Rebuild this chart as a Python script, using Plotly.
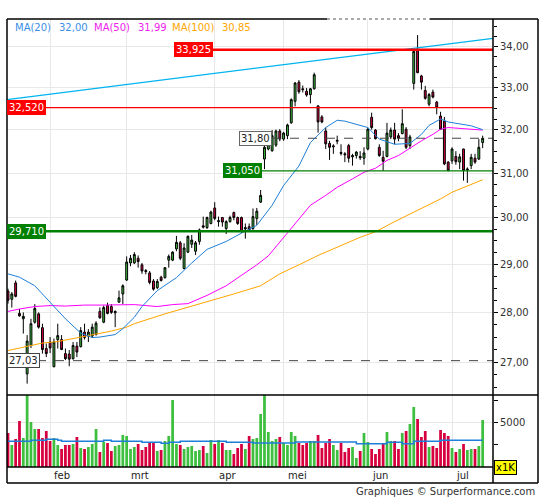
import math
import pandas as pd
import plotly.graph_objects as go

# trading days on the chart (Euronext, 16 jan - 12 jul 2023)
holidays = ["2023-04-07", "2023-04-10", "2023-05-01"]
days = [d.strftime("%Y-%m-%d") for d in pd.bdate_range("2023-01-16", "2023-07-12")
        if d.strftime("%Y-%m-%d") not in holidays]

opens = [
    28.44, 28.27, 28.61, 27.98, 27.87, 26.77, 27.33, 27.80, 27.97, 27.69,
    27.27, 27.40, 26.91, 27.45, 27.45, 27.17, 27.16, 27.07, 27.32, 27.31,
    27.60, 27.52, 27.52, 27.55, 28.02, 27.80, 28.14, 28.12, 27.99, 28.21,
    28.38, 28.67, 29.03, 29.03, 29.13, 28.99, 28.87, 28.82, 28.65, 28.51,
    28.73, 28.72, 29.09, 29.09, 29.33, 29.46, 28.91, 29.26, 29.43, 29.28,
    29.49, 29.83, 29.79, 29.88, 30.22, 29.92, 30.01, 29.77, 29.92, 30.12,
    30.01, 30.01, 29.76, 29.81, 29.77, 29.99, 30.35, 31.32, 31.55, 31.51,
    31.64, 31.97, 31.78, 31.86, 32.16, 32.67, 33.13, 32.97, 32.91, 32.83,
    32.97, 32.56, 32.30, 31.97, 31.68, 31.60, 31.73, 31.47, 31.44, 31.63,
    31.37, 31.40, 31.38, 31.34, 31.55, 32.29, 31.99, 31.59, 31.36, 31.38,
    31.83, 31.99, 31.86, 31.91, 32.01, 31.63, 33.10, 33.94, 33.28, 32.93,
    32.60, 32.89, 32.65, 32.32, 32.20, 31.25, 31.28, 31.38, 31.25, 31.55,
    31.07, 31.17, 31.34, 31.32, 31.70,
]
highs = [
    28.49, 28.42, 28.66, 28.07, 28.00, 27.54, 27.87, 28.17, 28.00, 27.77,
    27.37, 27.50, 27.47, 27.77, 27.54, 27.27, 27.24, 27.40, 27.40, 27.70,
    27.77, 27.66, 27.77, 27.82, 28.10, 28.14, 28.20, 28.17, 28.04, 28.45,
    28.58, 29.17, 29.20, 29.26, 29.19, 29.03, 28.90, 28.86, 28.69, 28.69,
    28.76, 28.94, 29.21, 29.28, 29.61, 29.50, 29.45, 29.62, 29.63, 29.50,
    29.77, 30.03, 30.03, 30.16, 30.35, 30.03, 30.02, 29.95, 30.05, 30.14,
    30.03, 30.03, 29.88, 29.88, 30.21, 30.22, 30.62, 31.66, 31.78, 31.99,
    32.00, 32.01, 31.95, 32.14, 32.74, 33.13, 33.18, 33.05, 32.99, 32.99,
    33.36, 32.58, 32.34, 32.05, 31.74, 31.66, 31.86, 31.66, 31.48, 31.67,
    31.44, 31.50, 31.50, 31.59, 32.05, 32.40, 32.01, 31.66, 31.51, 32.16,
    32.05, 32.16, 31.92, 32.48, 32.06, 31.88, 33.96, 34.29, 33.31, 33.04,
    32.87, 32.95, 32.68, 32.42, 32.30, 31.27, 31.59, 31.50, 31.44, 31.56,
    31.13, 31.44, 31.44, 31.78, 31.86,
]
lows = [
    28.18, 28.10, 28.31, 27.91, 27.57, 26.58, 27.28, 27.77, 27.67, 27.17,
    27.10, 27.18, 26.90, 27.27, 27.24, 27.04, 26.92, 27.05, 27.10, 27.29,
    27.45, 27.40, 27.48, 27.53, 27.87, 27.78, 27.96, 27.97, 27.70, 28.20,
    28.17, 28.65, 28.96, 29.01, 28.93, 28.80, 28.79, 28.58, 28.45, 28.48,
    28.64, 28.70, 28.93, 29.07, 29.28, 29.09, 28.90, 29.24, 29.35, 29.20,
    29.42, 29.77, 29.76, 29.86, 29.95, 29.81, 29.81, 29.65, 29.90, 29.95,
    29.85, 29.68, 29.55, 29.72, 29.74, 29.85, 30.33, 31.09, 31.52, 31.49,
    31.60, 31.73, 31.74, 31.78, 32.14, 32.55, 32.85, 32.88, 32.78, 32.62,
    32.95, 31.93, 32.15, 31.55, 31.30, 31.44, 31.66, 31.40, 31.25, 31.24,
    31.17, 31.33, 31.30, 31.19, 31.52, 32.00, 31.77, 31.37, 31.05, 31.36,
    31.78, 31.66, 31.73, 31.89, 31.55, 31.55, 32.95, 33.35, 32.95, 32.71,
    32.55, 32.74, 32.36, 31.99, 31.18, 31.04, 31.21, 31.19, 31.09, 30.83,
    30.78, 31.09, 31.21, 31.30, 31.57,
]
closes = [
    28.25, 28.38, 28.33, 27.93, 27.92, 27.42, 27.77, 28.08, 27.70, 27.25,
    27.17, 27.28, 27.40, 27.53, 27.25, 27.07, 27.06, 27.33, 27.20, 27.63,
    27.49, 27.60, 27.70, 27.78, 27.89, 28.10, 27.98, 28.00, 28.02, 28.30,
    28.55, 29.05, 29.13, 29.21, 29.06, 28.86, 28.85, 28.62, 28.48, 28.64,
    28.66, 28.93, 29.17, 29.26, 29.47, 29.13, 29.35, 29.60, 29.52, 29.46,
    29.74, 29.80, 30.01, 30.13, 29.99, 29.94, 29.91, 29.92, 30.01, 30.01,
    29.88, 29.70, 29.79, 29.74, 30.03, 30.15, 30.50, 31.59, 31.74, 31.86,
    31.97, 31.78, 31.92, 32.11, 32.71, 33.11, 32.90, 32.95, 32.82, 32.97,
    33.31, 32.18, 32.18, 31.67, 31.59, 31.62, 31.75, 31.45, 31.42, 31.34,
    31.40, 31.48, 31.35, 31.46, 32.01, 32.05, 31.79, 31.40, 31.27, 31.92,
    31.99, 31.78, 31.80, 32.14, 31.59, 31.83, 33.88, 33.36, 33.13, 32.74,
    32.83, 32.77, 32.52, 32.01, 31.21, 31.06, 31.55, 31.26, 31.37, 31.06,
    31.09, 31.36, 31.25, 31.59, 31.80,
]
# volume in thousands
volumes = [
    3825, 2475, 3150, 5175, 3260, 9300, 5060, 4275, 4275, 3260,
    4050, 2925, 3260, 2475, 2025, 2475, 2475, 2590, 3375, 2140,
    2025, 2250, 2590, 4275, 1690, 2810, 2700, 1800, 2360, 2475,
    3600, 3490, 2025, 2250, 2590, 1910, 2250, 2700, 2700, 1800,
    1910, 2925, 3490, 7540, 2590, 2475, 2025, 2250, 2360, 1800,
    1910, 2360, 1575, 3040, 2590, 3040, 2700, 1910, 1910, 1460,
    2140, 2590, 2025, 3490, 3150, 3260, 5960, 9000, 3940, 2925,
    3150, 3375, 2700, 2475, 3940, 3490, 2700, 2475, 2700, 2925,
    2925, 3600, 2140, 2700, 3150, 2475, 1910, 2700, 1690, 2140,
    2250, 1010, 1800, 3825, 2810, 2025, 1460, 2025, 2590, 3940,
    2925, 2925, 2025, 3825, 4050, 4840, 6750, 5400, 3375, 4050,
    2250, 2360, 2140, 4160, 3825, 3490, 2140, 1690, 2025, 2590,
    1910, 2025, 2025, 2360, 5290,
]

# moving averages (day index -> value)
ma20_at = [0, 3, 7, 9, 12, 15, 19, 22, 24, 28, 30, 33, 35, 39, 44, 48, 52, 57, 61, 65,
           69, 72, 76, 79, 83, 86, 88, 91, 94, 97, 101, 105, 108, 110, 113, 115, 118, 121, 124]
ma20 = [28.80, 28.73, 28.55, 28.38, 28.14, 27.87, 27.58, 27.49, 27.50, 27.55, 27.67, 27.90,
        28.12, 28.45, 28.72, 29.03, 29.32, 29.49, 29.67, 29.84, 30.28, 30.72, 31.16, 31.70,
        32.05, 32.22, 32.20, 32.12, 32.05, 31.78, 31.66, 31.68, 31.89, 32.10, 32.25, 32.18,
        32.14, 32.09, 32.00]
ma50_at = [0, 3, 7, 11, 15, 20, 24, 33, 39, 43, 47, 52, 57, 61, 65, 68, 72, 76, 79, 83,
           86, 90, 93, 96, 99, 102, 105, 108, 111, 113, 115, 118, 122, 124]
ma50 = [28.02, 28.07, 28.12, 28.14, 28.13, 28.15, 28.15, 28.16, 28.12, 28.16, 28.18, 28.35,
        28.55, 28.76, 28.99, 29.18, 29.58, 29.99, 30.28, 30.50, 30.68, 30.87, 31.02, 31.11,
        31.29, 31.40, 31.57, 31.74, 31.89, 32.01, 32.05, 32.03, 32.01, 31.99]
ma100_at = [0, 5, 9, 13, 18, 22, 27, 31, 33, 41, 50, 59, 66, 71, 76, 81, 92, 96, 101, 105,
            113, 116, 124]
ma100 = [27.23, 27.31, 27.38, 27.41, 27.49, 27.55, 27.62, 27.70, 27.77, 27.97, 28.17, 28.38,
         28.55, 28.80, 28.99, 29.19, 29.58, 29.70, 29.92, 30.08, 30.42, 30.57, 30.85]
vol_ma_at = [0, 6, 10, 13, 14, 25, 27, 35, 40, 42, 45, 57, 64, 75, 91, 99, 103, 106, 113, 124]
vol_ma = [2890, 3000, 3110, 3000, 2890, 3000, 2890, 2775, 2660, 2775, 2890, 2775, 2700,
          2810, 2625, 2775, 2625, 2890, 3000, 3000]

# trend line, value at the left and right edge of the plot
trend = [32.71, 34.21]
# support / resistance levels
levels = [33.925, 32.520, 31.050, 29.710, 27.03]

price_ticks = [27, 28, 29, 30, 31, 32, 33, 34]
month_ends = ["2023-01-31", "2023-02-28", "2023-03-31", "2023-04-28", "2023-05-31", "2023-06-30"]
month_names = ["feb", "mrt", "apr", "mei", "jun", "jul"]

GREEN = "#3fbf3f"
RED = "#d7003f"
BLUE = "#1e7fd8"
FONT = "DejaVu Sans"


def px(x):
    # page pixel column -> paper fraction (plot area is 7..493)
    return (x - 7) / 486


def py(y):
    # page pixel row -> paper fraction (plot area is 19..467)
    return (467 - y) / 448


def nl(v, dec=2):
    return f"{v:.{dec}f}".replace(".", ",")


fig = go.Figure()

fig.add_trace(go.Candlestick(
    x=days, open=opens, high=highs, low=lows, close=closes,
    increasing=dict(fillcolor=GREEN, line=dict(color="#000", width=1)),
    decreasing=dict(fillcolor=RED, line=dict(color="#000", width=1)),
    whiskerwidth=0, hoverinfo="skip", showlegend=False,
))
for at, vals, col in [(ma100_at, ma100, "#ffa500"), (ma50_at, ma50, "#ff00ff"), (ma20_at, ma20, BLUE)]:
    fig.add_trace(go.Scatter(x=[days[i] for i in at], y=vals, mode="lines",
                             line=dict(color=col, width=1), hoverinfo="skip"))

vol_colors = [GREEN if c >= o else RED for o, c in zip(opens, closes)]
fig.add_trace(go.Bar(x=days, y=volumes, marker=dict(color=vol_colors, line=dict(width=0)),
                     yaxis="y2", hoverinfo="skip"))
fig.add_trace(go.Scatter(x=[days[i] for i in vol_ma_at], y=vol_ma, mode="lines", yaxis="y2",
                         line=dict(color=BLUE, width=1.5, shape="hv"), hoverinfo="skip"))
# carrier for the minor price ticks
fig.add_trace(go.Scatter(x=[days[0]], y=[closes[0]], yaxis="y3", mode="markers",
                         marker=dict(opacity=0), hoverinfo="skip"))

shapes = []
# trend line
shapes.append(dict(type="line", xref="paper", yref="y", x0=0, x1=1, y0=trend[0], y1=trend[1],
                   line=dict(color="#00b4f0", width=1.3)))
# levels
lv_style = [
    (px(213), "#ff0000", 2.5, "solid"),
    (0, "#ff0000", 1.3, "solid"),
    (px(262), "#008000", 1.3, "solid"),
    (0, "#008000", 2.5, "solid"),
    (px(37), "#444", 1, "dash"),
]
for v, (x0, col, w, dash) in zip(levels, lv_style):
    shapes.append(dict(type="line", xref="paper", yref="y", x0=x0, x1=1, y0=v, y1=v,
                       line=dict(color=col, width=w, dash=dash)))
shapes.append(dict(type="line", xref="paper", yref="y", x0=px(272), x1=1,
                   y0=closes[-1], y1=closes[-1], line=dict(color="#444", width=1, dash="dash")))

# frame
frame = dict(color="#000", width=1.5)
shapes += [
    dict(type="line", xref="paper", yref="paper", x0=0, x1=0, y0=py(483), y1=1, line=frame),
    dict(type="line", xref="paper", yref="paper", x0=px(538), x1=px(538), y0=py(483), y1=1, line=frame),
    dict(type="line", xref="paper", yref="paper", x0=1, x1=1, y0=py(483), y1=1, line=frame),
    dict(type="line", xref="paper", yref="paper", x0=0, x1=px(538), y0=py(483), y1=py(483), line=frame),
    dict(type="line", xref="paper", yref="paper", x0=0, x1=px(538), y0=py(395), y1=py(395), line=frame),
    dict(type="line", xref="paper", yref="paper", x0=0, x1=1, y0=0, y1=0, line=frame),
    dict(type="line", xref="paper", yref="paper", x0=0, x1=px(327), y0=1, y1=1, line=frame),
    dict(type="line", xref="paper", yref="paper", x0=px(430), x1=px(538), y0=1, y1=1, line=frame),
    dict(type="line", xref="paper", yref="paper", x0=px(327), x1=px(430), y0=1, y1=1,
         line=dict(color="#555", width=1, dash="dot")),
]

ann = []
# level labels
lv_labels = [
    (levels[0], nl(levels[0], 3), px(213), "right", "#ff0000", "#fff", "#ff0000"),
    (levels[1], nl(levels[1], 3), 0, "left", "#ff0000", "#fff", "#ff0000"),
    (levels[2], nl(levels[2], 3), px(262), "right", "#008000", "#fff", "#008000"),
    (levels[3], nl(levels[3], 3), 0, "left", "#008000", "#fff", "#008000"),
    (levels[4], nl(levels[4]), 0, "left", "#fff", "#222", "#444"),
    (closes[-1], nl(closes[-1]), px(272), "right", "#fff", "#222", "#666"),
]
for v, txt, x, anchor, bg, fg, bd in lv_labels:
    ann.append(dict(text=txt, xref="paper", yref="y", x=x, y=math.log10(v), xanchor=anchor,
                    yanchor="middle", showarrow=False, bgcolor=bg, bordercolor=bd, borderwidth=1,
                    borderpad=1, font=dict(family=FONT, size=10, color=fg)))

# MA legend
legend = [("MA(20)", 13, "#3a8ee6"), (nl(ma20[-1]), 57, "#3a8ee6"),
          ("MA(50)", 92, "#ee22ee"), (nl(ma50[-1]), 136, "#ee22ee"),
          ("MA(100)", 170, "#ffa500"), (nl(ma100[-1]), 220, "#ffa500")]
for txt, x, col in legend:
    ann.append(dict(text=txt, xref="paper", yref="paper", x=px(x), y=py(27), xanchor="left",
                    yanchor="middle", showarrow=False, font=dict(family=FONT, size=10, color=col)))

# month labels
for d, name in zip(month_ends, month_names):
    ann.append(dict(text=name, xref="x", yref="paper", x=d, y=py(475), xanchor="left",
                    xshift=2, yanchor="middle", showarrow=False,
                    font=dict(family=FONT, size=10, color="#222")))

ann.append(dict(text="x1K", xref="paper", yref="paper", x=px(494), y=0, xanchor="left",
                yanchor="middle", showarrow=False, bgcolor="#ffff00", bordercolor="#000",
                borderwidth=1, borderpad=1, font=dict(family=FONT, size=10, color="#000")))
ann.append(dict(text="Graphiques © Surperformance.com", xref="paper", yref="paper", x=px(537),
                y=py(491), xanchor="right", yanchor="middle", showarrow=False,
                font=dict(family=FONT, size=10, color="#333")))

prange = [math.log10(26.36), math.log10(34.695)]
fig.update_layout(
    width=545, height=500,
    margin=dict(l=7, r=52, t=19, b=33),
    paper_bgcolor="white", plot_bgcolor="white",
    separators=",.",
    font=dict(family=FONT, size=10, color="#333"),
    showlegend=False, bargap=0.28,
    shapes=shapes, annotations=ann,
    xaxis=dict(type="category", range=[-0.26, 126.7], anchor="y2", tickvals=month_ends,
               showticklabels=False, ticks="", showgrid=True, gridcolor="#e8e8e8",
               zeroline=False, showline=False, rangeslider=dict(visible=False)),
    yaxis=dict(domain=[py(395), 1], type="log", range=prange, side="right", anchor="x",
               tickvals=price_ticks, tickformat=".2f", ticks="outside", ticklen=4,
               tickcolor="#000", gridcolor="#e8e8e8", zeroline=False, showline=False,
               tickfont=dict(family=FONT, size=10, color="#333")),
    yaxis3=dict(overlaying="y", type="log", range=prange, side="right", anchor="x",
                tickvals=[t / 4 for t in range(106, 139) if t % 4], ticks="outside", ticklen=3,
                tickcolor="#000", showticklabels=False, showgrid=False, zeroline=False),
    yaxis2=dict(domain=[0, py(395)], range=[0, 8100], side="right", anchor="x",
                tickvals=[5000], ticks="outside", ticklen=4, tickcolor="#000",
                gridcolor="#e8e8e8", zeroline=False, showline=False,
                minor=dict(tickvals=[2500, 7500], ticks="outside", ticklen=4,
                           tickcolor="#000", showgrid=False),
                tickfont=dict(family=FONT, size=10, color="#333")),
)

# the page body has a default 8px margin; drop it so the figure sits at the top-left corner
fig.write_html("out.html", config={"displayModeBar": False},
               post_script="document.body.style.margin='0';")
